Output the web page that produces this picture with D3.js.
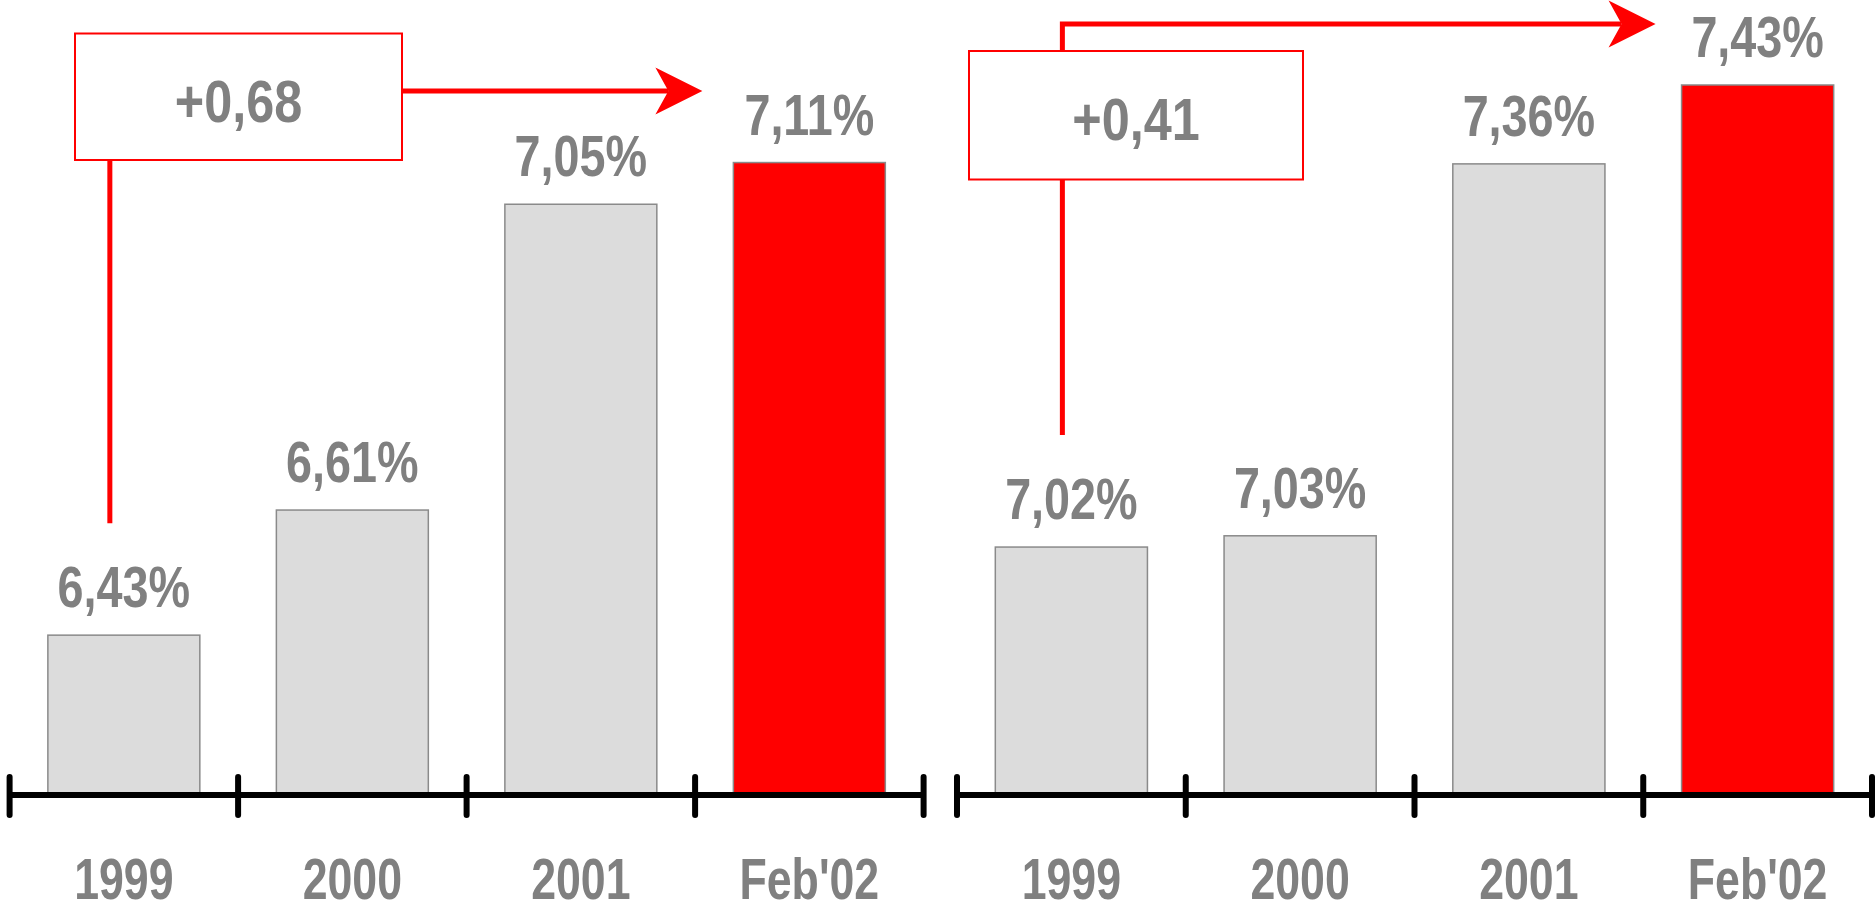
<!DOCTYPE html>
<html>
<head>
<meta charset="utf-8">
<script src="https://cdn.jsdelivr.net/npm/d3@7"></script>
<style>
  html, body { margin: 0; padding: 0; background: #fff; }
  svg { display: block; }
  .lbl { font-family: "Liberation Sans", Arial, sans-serif; font-weight: bold; fill: #808080; }
</style>
</head>
<body>
<svg id="viz" width="1876" height="906"></svg>
<script>
// DATA
var categories = ["1999", "2000", "2001", "Feb'02"];
var leftValues = [6.43, 6.61, 7.05, 7.11];
var rightValues = [7.02, 7.03, 7.36, 7.43];

var axisY = 795;
var svg = d3.select("#viz");

var fmt = function (v) { return d3.format(".2f")(v).replace(".", ","); };

// narrow bold text: squeeze a normal bold face horizontally
function narrowText(sel, x, y, size, sx, txt) {
  return sel.append("text")
    .attr("class", "lbl")
    .attr("transform", "translate(" + x + "," + y + ") scale(" + sx + ",1)")
    .attr("text-anchor", "middle")
    .style("font-size", size + "px")
    .text(txt);
}

// panel layout
var panels = [
  { values: leftValues, x0: 9.6, x1: 923.6, dom: [6.2, 7.2], pxPerUnit: 695,
    lineDx: -14, lineY: 91, arrowGap: 31, box: { x: 75, y: 33.5, w: 327, h: 126.5 } },
  { values: rightValues, x0: 957, x1: 1872, dom: [6.8, 7.5], pxPerUnit: 1127,
    lineDx: -9, lineY: 24, arrowGap: 26, box: { x: 969, y: 51, w: 334, h: 128.5 } }
];

panels.forEach(function (p) {
  var g = svg.append("g");
  var x = d3.scaleBand()
    .domain(categories)
    .range([p.x0, p.x1])
    .paddingInner(0.335)
    .paddingOuter(0.335 / 2);
  var y = d3.scaleLinear()
    .domain(p.dom)
    .range([axisY, axisY - (p.dom[1] - p.dom[0]) * p.pxPerUnit]);

  var data = categories.map(function (c, i) { return { cat: c, v: p.values[i], last: i === categories.length - 1 }; });

  //ANNOTATION LINE (elbow arrow) goes under the box
  var first = data[0], last = data[data.length - 1];
  var lx = x(first.cat) + x.bandwidth() / 2 + p.lineDx;
  var ly0 = y(first.v) - 112;
  var tipX = x(last.cat) - p.arrowGap;
  var aL = 47, aH = 23.5, notch = 34;
  g.append("path")
    .attr("d", "M" + lx + "," + ly0 + "V" + p.lineY + "H" + (tipX - notch))
    .attr("fill", "none")
    .attr("stroke", "#ff0000")
    .attr("stroke-width", 5);
  g.append("path")
    .attr("d", "M" + tipX + "," + p.lineY +
      "L" + (tipX - aL) + "," + (p.lineY - aH) +
      "L" + (tipX - notch) + "," + p.lineY +
      "L" + (tipX - aL) + "," + (p.lineY + aH) + "Z")
    .attr("fill", "#ff0000");

  //BARS
  g.selectAll(".bar")
    .data(data)
    .enter().append("rect")
    .attr("class", "bar")
    .attr("x", function (d) { return x(d.cat); })
    .attr("y", function (d) { return y(d.v); })
    .attr("width", x.bandwidth())
    .attr("height", function (d) { return axisY - y(d.v); })
    .attr("fill", function (d) { return d.last ? "#ff0000" : "#dcdcdc"; })
    .attr("stroke", "#8a8a8a")
    .attr("stroke-width", 1.5);

  //VALUE LABELS
  data.forEach(function (d) {
    narrowText(g, x(d.cat) + x.bandwidth() / 2, y(d.v) - 28, 57, 0.82, fmt(d.v) + "%");
  });

  //AXIS
  var step = x.step();
  var ticks = d3.range(categories.length + 1).map(function (i) { return p.x0 + i * step; });
  g.append("line")
    .attr("x1", p.x0).attr("x2", p.x1)
    .attr("y1", axisY).attr("y2", axisY)
    .attr("stroke", "#000").attr("stroke-width", 6);
  g.selectAll(".tick")
    .data(ticks)
    .enter().append("line")
    .attr("class", "tick")
    .attr("x1", function (d) { return d; }).attr("x2", function (d) { return d; })
    .attr("y1", axisY - 18).attr("y2", axisY + 20)
    .attr("stroke", "#000").attr("stroke-width", 6)
    .attr("stroke-linecap", "round");

  categories.forEach(function (c) {
    narrowText(g, x(c) + x.bandwidth() / 2, 899, 58, 0.77, c);
  });

  //DELTA BOX
  g.append("rect")
    .attr("x", p.box.x).attr("y", p.box.y)
    .attr("width", p.box.w).attr("height", p.box.h)
    .attr("fill", "#fff")
    .attr("stroke", "#ff0000")
    .attr("stroke-width", 2);
  narrowText(g, p.box.x + p.box.w / 2, p.box.y + p.box.h / 2 + 25, 60, 0.84, "+" + fmt(last.v - first.v));
});
</script>
</body>
</html>
